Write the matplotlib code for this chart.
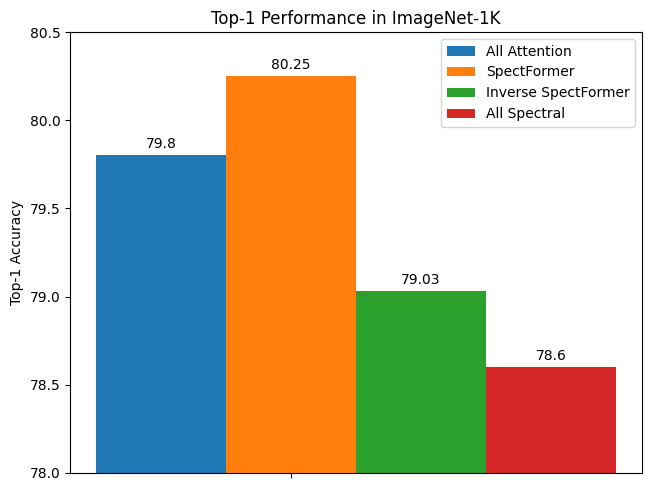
import matplotlib
matplotlib.use("Agg")
import matplotlib.pyplot as plt
import numpy as np

groups = [""]
series_names = ["All Attention", "SpectFormer", "Inverse SpectFormer", "All Spectral"]
values = [79.8, 80.25, 79.03, 78.6]

x = np.arange(len(groups))
width = 0.25

fig, ax = plt.subplots(figsize=(6.51, 4.91), dpi=100)
fig.subplots_adjust(left=70/651, right=642/651, top=1-32/491, bottom=1-473/491)
for i, (name, v) in enumerate(zip(series_names, values)):
    rects = ax.bar(x + width * i, [v], width, label=name)
    ax.bar_label(rects, padding=3)

ax.set_ylabel("Top-1 Accuracy")
ax.set_title("Top-1 Performance in ImageNet-1K")
ax.set_xticks(x + width, groups)
ax.set_ylim(78, 80.5)
ax.legend(loc="upper right")
fig.savefig("out.png", dpi=100)
